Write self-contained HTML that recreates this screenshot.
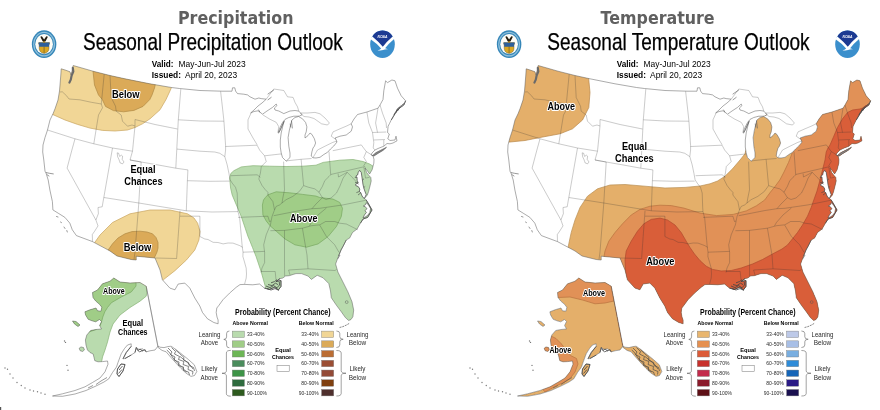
<!DOCTYPE html>
<html lang="en"><head><meta charset="utf-8"><title>Seasonal Outlook</title>
<style>
html,body{margin:0;padding:0;background:#fff}
body{width:880px;height:410px;overflow:hidden}
svg{display:block}
text{font-family:"Liberation Sans",Arial,sans-serif;fill:#000}
.ttl{font-family:"DejaVu Sans","Liberation Sans",sans-serif;font-weight:700;font-size:18px;fill:#606060}
.sub{stroke:#000;stroke-width:.25px}
.lb{font-weight:700;fill:#000;stroke:#fff;stroke-width:2.2px;paint-order:stroke;stroke-linejoin:round}
</style></head><body>
<svg width="880" height="410" viewBox="0 0 880 410">
<rect width="880" height="410" fill="#fff"/>
<defs>
<clipPath id="land"><path d="M73.2 65.5 L93.0 71.2 L110.0 75.5 L125.0 78.8 L150.0 83.8 L171.5 87.5 L179.5 88.5 L200.0 90.5 L222.0 91.2 L232.0 91.2 L232.5 87.8 L234.8 87.8 L235.6 91.1 L237.5 93.6 L243.8 94.2 L247.5 94.9 L250.0 96.8 L255.0 99.2 L258.8 98.0 L261.2 98.6 L266.2 99.2 L262.0 103.0 L258.0 106.0 L254.0 110.0 L250.6 113.0 L254.0 111.5 L258.0 110.8 L260.0 112.2 L262.5 114.2 L267.0 111.0 L272.5 107.4 L276.2 104.0 L277.0 105.5 L274.4 108.0 L275.0 110.0 L278.8 111.0 L283.8 113.6 L290.0 111.0 L295.0 110.5 L298.8 111.1 L300.5 113.0 L302.0 114.8 L299.5 116.0 L298.0 116.2 L293.8 116.2 L288.8 117.5 L285.0 119.4 L282.5 122.5 L280.0 127.5 L278.0 132.5 L279.5 131.5 L281.5 127.0 L284.0 121.5 L282.8 126.0 L281.2 133.0 L280.3 140.0 L280.3 147.0 L281.2 153.0 L282.5 157.5 L286.2 161.2 L290.0 157.5 L290.0 153.0 L288.8 146.2 L288.1 137.5 L289.4 130.0 L291.9 120.0 L295.0 117.5 L298.5 116.5 L302.5 118.8 L305.6 122.5 L306.9 126.9 L306.2 131.9 L305.0 135.0 L305.0 138.0 L308.0 135.6 L310.0 133.0 L311.9 134.4 L314.4 138.8 L315.6 143.0 L314.4 146.2 L313.0 148.0 L311.9 151.9 L311.2 156.0 L313.0 157.8 L316.0 158.0 L320.0 157.3 L323.8 154.5 L327.5 152.3 L330.5 149.0 L333.8 146.0 L337.0 142.0 L336.0 139.5 L335.0 138.0 L340.0 136.2 L346.2 135.0 L351.2 131.2 L352.5 126.9 L351.2 123.8 L354.0 119.0 L357.5 114.5 L366.9 112.0 L378.0 108.2 L380.0 105.0 L383.0 99.5 L383.8 90.8 L385.6 80.8 L387.5 82.6 L391.9 80.0 L395.0 80.8 L397.5 88.2 L401.2 95.8 L405.6 100.8 L403.8 105.0 L401.0 107.0 L398.8 108.8 L396.5 111.5 L395.0 113.8 L393.0 117.0 L391.2 120.0 L389.5 123.5 L388.1 126.2 L387.5 132.5 L389.3 134.0 L387.8 138.8 L390.0 140.5 L395.0 140.0 L396.0 136.2 L397.0 140.8 L393.0 143.0 L390.0 143.8 L387.0 143.5 L383.8 146.2 L378.0 148.5 L375.0 150.0 L372.0 153.0 L371.0 155.0 L373.0 155.7 L374.0 159.5 L373.8 163.2 L372.1 169.8 L369.6 174.0 L367.5 171.0 L365.0 168.0 L366.6 172.5 L369.0 175.5 L370.8 177.5 L371.2 181.0 L370.0 186.0 L368.6 191.5 L367.3 195.3 L364.4 198.2 L366.2 200.0 L368.5 204.0 L372.0 210.0 L367.5 217.5 L363.0 219.0 L360.4 223.2 L357.1 229.0 L352.5 232.5 L349.6 238.1 L346.2 240.0 L343.0 246.4 L341.0 250.0 L337.5 258.8 L335.6 264.0 L337.9 272.0 L342.9 281.9 L347.9 291.9 L352.0 301.8 L353.7 310.1 L352.9 316.7 L351.0 319.5 L348.7 320.5 L345.4 317.6 L341.3 311.8 L336.3 305.1 L331.3 297.7 L330.5 291.0 L328.8 283.6 L323.0 277.8 L317.2 275.3 L311.4 279.4 L308.1 276.1 L301.5 273.6 L296.0 273.6 L293.2 274.4 L289.3 275.7 L285.5 276.0 L282.7 278.1 L280.0 278.6 L276.0 281.5 L281.0 280.6 L281.0 286.4 L278.5 289.8 L274.4 287.3 L269.4 289.4 L264.4 288.1 L259.5 284.0 L252.8 284.8 L244.5 284.4 L240.0 284.6 L236.2 287.3 L229.6 293.1 L223.0 299.7 L218.8 305.5 L216.8 308.0 L216.2 312.5 L217.0 317.0 L218.1 320.0 L218.1 323.8 L213.8 322.5 L207.5 318.8 L202.5 312.5 L199.8 306.0 L194.8 298.0 L189.8 288.1 L184.8 283.1 L178.2 284.0 L174.9 289.8 L169.9 288.1 L162.4 279.8 L160.0 270.0 L155.0 258.0 L136.2 256.2 L136.2 260.0 L131.2 259.5 L117.0 256.0 L110.0 251.0 L92.5 241.6 L76.4 235.6 L72.3 229.8 L69.8 223.1 L64.8 217.3 L58.2 213.2 L52.9 209.9 L52.4 201.6 L49.9 190.0 L48.2 180.0 L46.0 173.0 L45.0 171.2 L43.8 160.0 L42.7 152.0 L43.0 145.0 L45.0 137.5 L47.5 130.0 L50.0 120.0 L53.0 113.8 L55.0 108.8 L58.0 100.0 L59.5 91.0 L60.0 85.0 L60.8 75.0 L61.2 68.8 L66.0 70.3 L70.0 71.8 L71.0 75.0 L72.0 71.0 L73.2 65.5Z"/><path d="M146.2 286.2 L140.0 282.5 L130.0 283.0 L120.0 282.0 L113.8 278.0 L110.0 281.2 L102.5 283.8 L97.5 290.0 L92.5 292.5 L93.0 297.5 L95.7 301.0 L99.5 304.3 L101.8 307.2 L101.0 311.2 L97.5 310.8 L96.0 308.0 L90.0 309.8 L84.9 311.8 L85.6 315.0 L88.2 319.3 L92.0 320.8 L95.7 321.8 L99.5 319.5 L101.5 321.5 L99.6 325.5 L101.5 329.0 L96.0 329.5 L90.7 330.5 L86.8 335.0 L85.4 340.0 L86.0 345.0 L87.4 349.9 L90.0 352.5 L93.2 354.0 L94.0 357.5 L94.8 360.7 L98.0 361.8 L102.5 361.6 L107.5 361.0 L108.0 364.2 L105.0 371.8 L100.0 378.0 L92.5 382.5 L85.0 386.8 L75.0 390.5 L62.5 393.8 L52.5 396.0 L62.5 396.3 L75.0 394.0 L86.0 390.5 L96.0 386.0 L104.0 382.0 L108.8 378.8 L112.5 372.5 L116.5 367.0 L118.0 362.5 L121.2 353.8 L124.5 348.5 L127.5 345.0 L131.2 343.8 L131.2 346.2 L128.5 349.5 L126.2 352.5 L123.0 358.8 L125.0 358.5 L128.0 356.8 L131.2 355.0 L135.0 352.5 L136.2 347.5 L139.0 349.5 L142.5 348.8 L146.2 351.9 L150.0 350.8 L155.0 350.0 L158.0 346.2 L160.0 347.2 L164.0 347.6 L168.0 346.6 L171.1 346.2 L176.0 349.6 L182.7 354.9 L188.5 359.6 L194.3 364.8 L196.8 371.5 L194.5 375.5 L191.0 376.4 L186.0 373.1 L181.0 368.4 L176.1 363.2 L171.0 357.5 L166.1 351.8 L162.0 350.4 L158.0 347.4Z"/><path d="M372.5 155.5 L376.0 152.5 L381.0 150.0 L386.5 147.2 L383.0 150.5 L378.0 153.5 L374.0 156.2Z"/><path d="M72.5 321.0 L76.0 321.5 L80.0 325.0 L78.0 326.5 L74.5 324.0Z"/><path d="M79.2 348.2 L81.0 346.9 L83.6 347.6 L84.4 350.0 L82.5 351.5 L80.0 350.6Z"/><path d="M117.5 369.0 L121.0 364.0 L125.0 364.5 L123.0 371.0 L119.0 376.5 L117.0 374.0Z"/></clipPath>
</defs>
<g id="precip">
<g clip-path="url(#land)">
<path d="M52.5 114.4 L65.0 120.0 L77.5 124.4 L90.0 128.1 L102.5 130.4 L115.0 131.0 L127.5 130.0 L135.0 127.5 L142.5 123.8 L150.0 118.8 L160.0 109.8 L166.0 99.5 L169.5 92.0 L171.5 87.5 L173.0 60.0 L30.0 50.0 L30.0 114.4Z" fill="#F1D696" stroke="#c9a560" stroke-width=".7"/>
<path d="M93.0 71.2 L94.5 85.0 L98.5 95.0 L102.3 99.5 L105.5 106.4 L113.4 110.6 L123.6 111.8 L133.9 110.4 L143.0 106.4 L149.8 99.5 L152.0 95.0 L154.5 88.0 L155.3 84.5 L156.0 60.0 L93.0 60.0Z" fill="#DBAA58" stroke="#b08a45" stroke-width=".7"/>
<path d="M93.8 243.8 L100.0 235.0 L112.5 222.5 L130.0 213.8 L150.0 210.0 L170.0 210.0 L187.5 213.8 L194.0 218.0 L197.6 223.2 L200.0 231.5 L198.9 240.0 L194.8 250.0 L186.5 259.9 L174.9 270.7 L163.3 279.8 L155.0 290.0 L90.0 290.0Z" fill="#F1D696" stroke="#c9a560" stroke-width=".7"/>
<path d="M107.5 251.0 L112.5 243.8 L118.0 238.0 L125.0 233.8 L132.0 231.6 L140.0 231.2 L147.0 232.0 L152.5 233.8 L156.0 237.5 L158.0 242.5 L158.0 248.0 L157.0 252.0 L154.5 257.5 L150.0 275.0 L105.0 275.0Z" fill="#DBAA58" stroke="#b08a45" stroke-width=".7"/>
<path d="M229.7 178.2 L230.8 173.5 L233.9 170.7 L241.3 166.9 L253.0 165.7 L269.5 166.2 L286.1 166.5 L302.7 166.2 L316.0 165.2 L323.2 162.4 L339.8 160.2 L353.0 159.5 L363.0 161.5 L369.6 164.0 L376.0 168.0 L440.0 168.0 L440.0 345.0 L267.0 345.0 L266.0 292.0 L265.3 286.4 L261.1 271.5 L256.1 256.6 L252.5 247.5 L249.5 240.0 L248.0 236.5 L241.3 216.6 L236.4 205.0 L232.2 195.0 L230.6 188.1Z" fill="#B9DBAE" stroke="#86b176" stroke-width=".7"/>
<path d="M262.4 205.0 L263.5 200.0 L265.4 197.5 L267.9 194.8 L276.2 191.8 L289.5 192.8 L302.7 194.4 L316.0 196.1 L319.8 197.5 L333.0 199.1 L339.7 202.4 L342.5 208.3 L341.3 216.5 L336.4 226.5 L328.1 236.5 L318.1 243.9 L306.5 247.2 L294.9 244.8 L284.9 238.9 L276.6 231.5 L270.0 225.7 L266.2 220.9 L262.9 214.9Z" fill="#A0CD87" stroke="#78a862" stroke-width=".7"/>
<path d="M150.0 270.0 L146.2 296.2 L140.0 301.2 L130.0 307.5 L120.0 315.0 L113.0 324.0 L110.0 332.0 L107.5 342.0 L105.0 350.0 L102.5 357.0 L101.2 364.0 L60.0 364.0 L60.0 270.0Z" fill="#B9DBAE" stroke="#86b176" stroke-width=".7"/>
<path d="M136.2 270.0 L136.0 286.0 L131.3 291.9 L121.4 296.9 L111.4 302.7 L107.5 307.5 L104.8 311.8 L102.8 317.0 L101.5 322.0 L100.0 326.0 L96.0 329.5 L87.5 332.5 L60.0 332.5 L60.0 270.0Z" fill="#A0CD87" stroke="#78a862" stroke-width=".7"/>
</g>
<path d="M266.2 99.2 L262.0 103.0 L258.0 106.0 L254.0 110.0 L250.6 113.0 L254.0 111.5 L258.0 110.8 L260.0 112.2 L262.5 114.2 L267.0 111.0 L272.5 107.4 L276.2 104.0 L277.0 105.5 L274.4 108.0 L275.0 110.0 L278.8 111.0 L283.8 113.6 L290.0 111.0 L295.0 110.5 L298.8 111.1 L297.5 106.8 L295.0 102.4 L293.1 97.4 L287.5 96.8 L283.8 90.5 L273.8 89.0 L266.2 99.2Z" fill="#fff" stroke="none"/>
<path d="M298.0 116.2 L293.8 116.2 L288.8 117.5 L285.0 119.4 L282.5 122.5 L280.0 127.5 L278.0 132.5 L279.5 131.5 L281.5 127.0 L284.0 121.5 L282.8 126.0 L281.2 133.0 L280.3 140.0 L280.3 147.0 L281.2 153.0 L282.5 157.5 L286.2 161.2 L290.0 157.5 L290.0 153.0 L288.8 146.2 L288.1 137.5 L289.4 130.0 L291.9 120.0 L295.0 117.5 L298.5 116.5Z" fill="#fff" stroke="none"/>
<path d="M300.5 113.0 L307.5 113.0 L315.0 112.4 L320.0 113.8 L325.0 118.0 L329.4 123.0 L327.5 125.0 L321.5 123.8 L317.0 120.6 L314.0 118.5 L309.0 117.0 L304.0 116.5 L302.0 114.8Z" fill="#fff" stroke="none"/>
<path d="M313.0 157.8 L316.0 158.0 L320.0 157.3 L323.8 154.5 L327.5 152.3 L330.5 149.0 L333.8 146.0 L337.0 142.0 L336.2 141.2 L332.5 142.5 L325.0 146.2 L317.5 150.0 L313.8 156.2 L313.0 157.8Z" fill="#fff" stroke="none"/>
<path d="M336.0 139.5 L335.0 138.0 L340.0 136.2 L346.2 135.0 L351.2 131.2 L352.5 126.9 L351.2 123.8 L346.2 126.2 L340.0 128.8 L333.0 131.9 L331.2 136.2 L336.0 139.5Z" fill="#fff" stroke="none"/>
<path d="M359.6 170.3 L361.2 172.3 L361.8 176.0 L362.4 180.0 L362.9 184.0 L363.7 187.7 L364.8 191.0 L366.2 194.6 L365.3 196.6 L364.4 198.4 L362.8 197.3 L361.6 195.0 L360.9 192.8 L359.4 191.5 L359.8 189.0 L358.3 186.6 L355.8 185.6 L355.6 184.2 L358.2 183.0 L357.2 180.4 L357.0 177.4 L355.8 176.0 L357.6 175.0 L358.2 172.5Z" fill="#fff" stroke="none"/>
<path d="M366.4 202.6 L368.6 205.2 L370.6 208.6 L369.8 212.6 L367.6 215.4 L365.0 217.2 L363.0 218.0 L364.4 215.0 L366.4 212.4 L365.0 210.8 L367.0 208.6 L365.2 206.8 L363.4 206.0 L365.6 204.6Z" fill="#fff" stroke="none"/>
<g fill="none" stroke="#2e2e2e" stroke-opacity=".5" stroke-width=".5" stroke-linejoin="round">
<path d="M60.0 92.0 L62.3 91.8 L66.5 95.7 L69.0 99.0 L79.8 99.8 L91.4 102.3 L101.3 104.0"/>
<path d="M104.2 74.2 L101.3 104.0"/>
<path d="M101.3 104.0 L102.5 107.8 L98.5 115.0 L97.0 124.0 L93.8 143.8"/>
<path d="M110.0 75.5 L111.2 97.5 L115.5 106.2 L116.2 111.2 L121.2 115.0 L122.5 121.2 L127.5 126.2 L132.0 125.0 L135.0 126.0"/>
<path d="M135.0 119.5 L135.0 126.0 L132.5 151.2 L130.0 160.0 L141.2 162.0"/>
<path d="M47.5 130.0 L75.0 138.8 L93.8 143.8 L112.5 148.0 L132.5 151.2"/>
<path d="M135.0 119.5 L155.0 124.5 L177.5 129.0"/>
<path d="M180.8 89.1 L178.3 119.8 L176.6 152.7 L175.8 168.2"/>
<path d="M178.3 119.8 L200.0 121.0 L223.9 121.2"/>
<path d="M177.0 149.1 L200.0 151.2 L214.8 152.0 L219.8 153.3 L224.8 156.6"/>
<path d="M75.0 138.8 L71.9 150.0 L67.1 168.1 L95.9 220.0"/>
<path d="M112.5 148.0 L103.8 197.5"/>
<path d="M103.8 197.5 L138.8 203.0 L163.0 207.0 L186.3 210.8 L212.0 212.0 L238.0 211.6"/>
<path d="M103.8 197.5 L102.2 206.8 L98.0 207.5 L98.4 213.6 L95.9 220.0 L98.0 225.9 L94.5 231.4 L92.3 234.5 L92.5 241.6"/>
<path d="M141.2 162.0 L138.8 203.0 L135.0 252.0 L134.0 259.5"/>
<path d="M130.0 160.0 L141.2 162.0 L160.0 165.3 L175.8 168.2 L187.9 169.9"/>
<path d="M187.9 169.9 L187.4 180.7 L186.3 210.8"/>
<path d="M187.4 180.7 L210.0 181.3 L229.7 181.1"/>
<path d="M180.0 210.8 L176.6 258.5 L155.0 258.0"/>
<path d="M180.0 216.2 L199.9 216.2 L199.9 236.5 L204.8 239.0 L208.0 239.5 L213.1 242.3 L218.0 242.5 L223.1 243.9 L228.0 243.0 L233.0 243.1 L239.7 245.6 L242.7 247.3"/>
<path d="M220.6 91.3 L222.5 108.0 L223.9 120.7 L225.6 145.6 L225.6 150.0 L224.8 156.6"/>
<path d="M225.6 146.5 L257.1 145.2"/>
<path d="M251.0 113.2 L248.0 119.8 L248.0 129.0 L253.0 138.0 L257.1 144.7"/>
<path d="M257.1 145.2 L259.6 150.0 L264.6 155.8 L266.2 161.6 L261.3 166.5 L260.4 173.2 L258.8 179.0 L262.1 185.6 L265.4 189.8 L267.9 192.3 L267.9 195.0 L272.9 201.6 L274.5 209.9 L272.0 216.6 L270.4 224.9 L266.2 234.8 L263.7 244.8 L264.6 252.2 L264.6 262.7 L262.0 268.0 L261.0 272.5"/>
<path d="M264.6 155.8 L279.5 154.1 L281.5 154.0"/>
<path d="M262.9 114.9 L269.5 119.0 L276.2 122.3 L278.7 126.5 L278.0 132.5"/>
<path d="M224.8 156.6 L227.2 164.9 L228.9 173.2 L230.1 179.8 L232.2 183.1 L235.5 187.3 L237.2 193.1 L237.7 207.7 L238.0 211.6 L239.7 218.2 L242.2 246.4 L243.0 252.2 L242.9 256.6 L244.5 262.0 L246.2 268.2 L246.5 274.0 L246.2 278.1 L244.5 284.4"/>
<path d="M230.6 175.7 L257.1 174.8 L260.4 177.3"/>
<path d="M238.0 217.4 L267.9 216.2 L269.5 221.5 L271.0 221.0"/>
<path d="M243.0 252.2 L264.6 251.4"/>
<path d="M261.0 271.5 L275.2 271.5 L276.0 279.8"/>
<path d="M283.6 161.6 L284.5 189.8 L282.8 198.1 L282.0 203.0"/>
<path d="M286.1 160.9 L301.1 159.3 L311.6 158.5"/>
<path d="M301.1 159.3 L303.6 185.6"/>
<path d="M330.7 174.8 L329.0 176.5 L324.8 180.6 L322.4 186.4 L319.0 192.2 L314.9 188.9 L308.3 187.2 L303.6 185.6 L299.4 191.4 L292.8 196.4 L286.1 199.7 L282.0 203.0 L279.5 205.0 L276.2 206.4 L274.5 209.9"/>
<path d="M329.0 151.6 L330.7 174.8"/>
<path d="M332.8 150.7 L361.3 144.9 L366.3 151.6 L363.8 157.4 L366.3 161.5 L363.8 165.7 L365.5 167.5"/>
<path d="M366.3 151.6 L373.0 155.7"/>
<path d="M330.7 174.5 L363.8 166.8 L365.5 178.1 L369.6 177.3"/>
<path d="M338.1 173.6 L338.5 177.0 L347.2 172.3 L343.1 178.1 L339.8 186.4 L336.5 193.0 L331.0 198.0 L326.0 199.5 L322.4 197.7 L319.0 192.2"/>
<path d="M347.2 172.3 L353.0 178.1 L358.9 184.8"/>
<path d="M322.4 197.7 L316.0 204.0 L312.0 208.7"/>
<path d="M273.7 215.7 L300.0 210.5 L312.0 208.7 L319.8 208.3 L343.0 204.9 L367.1 200.0"/>
<path d="M326.4 208.0 L318.1 214.9 L311.5 222.4 L309.5 225.8"/>
<path d="M270.4 230.7 L284.5 230.4 L302.4 228.2 L311.5 225.7 L319.8 224.8 L325.6 221.5 L334.7 221.5 L339.7 223.2 L346.3 224.0 L357.9 229.8"/>
<path d="M319.8 225.2 L326.4 236.5 L334.7 244.8 L338.9 252.2"/>
<path d="M302.4 228.2 L307.0 255.0 L307.5 262.0 L308.0 268.8"/>
<path d="M290.0 275.0 L288.6 270.0 L308.0 268.8 L335.0 270.5 L336.5 269.5"/>
<path d="M284.5 230.4 L284.5 262.7 L284.6 276.0"/>
<path d="M366.9 112.0 L368.8 123.0 L372.5 132.5 L373.8 142.5 L373.2 148.0 L375.0 150.0"/>
<path d="M378.0 108.2 L375.6 123.0 L377.5 132.5"/>
<path d="M372.5 132.5 L386.2 132.0"/>
<path d="M373.8 140.0 L385.0 139.5"/>
<path d="M383.8 140.0 L383.8 146.2"/>
<path d="M380.0 105.0 L382.5 113.2 L386.2 123.0 L386.5 128.0"/>
<path d="M117.2 152.8 L118.6 153.2 L119.6 156.4 L121.4 155.2 L122.6 156.2 L122.2 159.4 L124.0 162.0 L122.6 163.8 L120.2 163.0 L119.0 159.6 L117.6 156.6Z"/>
<path d="M266.2 99.2 L273.8 89.0 L283.8 90.5 L287.5 96.8 L293.1 97.4 L295.0 102.4 L297.5 106.8 L298.8 111.1"/><path d="M300.5 113.0 L307.5 113.0 L315.0 112.4 L320.0 113.8 L325.0 118.0 L329.4 123.0 L327.5 125.0 L321.5 123.8 L317.0 120.6 L314.0 118.5 L309.0 117.0 L304.0 116.5 L302.0 114.8Z"/><path d="M313.0 157.8 L313.8 156.2 L317.5 150.0 L325.0 146.2 L332.5 142.5 L336.2 141.2 L337.0 142.0"/><path d="M336.0 139.5 L331.2 136.2 L333.0 131.9 L340.0 128.8 L346.2 126.2 L351.2 123.8"/>
<path d="M146.2 286.2 L158.0 346.2"/>
</g>
<g fill="none" stroke="#555" stroke-opacity=".9" stroke-width=".55" stroke-linejoin="round">
<path d="M73.2 65.5 L93.0 71.2 L110.0 75.5 L125.0 78.8 L150.0 83.8 L171.5 87.5 L179.5 88.5 L200.0 90.5 L222.0 91.2 L232.0 91.2 L232.5 87.8 L234.8 87.8 L235.6 91.1 L237.5 93.6 L243.8 94.2 L247.5 94.9 L250.0 96.8 L255.0 99.2 L258.8 98.0 L261.2 98.6 L266.2 99.2 L262.0 103.0 L258.0 106.0 L254.0 110.0 L250.6 113.0 L254.0 111.5 L258.0 110.8 L260.0 112.2 L262.5 114.2 L267.0 111.0 L272.5 107.4 L276.2 104.0 L277.0 105.5 L274.4 108.0 L275.0 110.0 L278.8 111.0 L283.8 113.6 L290.0 111.0 L295.0 110.5 L298.8 111.1 L300.5 113.0 L302.0 114.8 L299.5 116.0 L298.0 116.2 L293.8 116.2 L288.8 117.5 L285.0 119.4 L282.5 122.5 L280.0 127.5 L278.0 132.5 L279.5 131.5 L281.5 127.0 L284.0 121.5 L282.8 126.0 L281.2 133.0 L280.3 140.0 L280.3 147.0 L281.2 153.0 L282.5 157.5 L286.2 161.2 L290.0 157.5 L290.0 153.0 L288.8 146.2 L288.1 137.5 L289.4 130.0 L291.9 120.0 L295.0 117.5 L298.5 116.5 L302.5 118.8 L305.6 122.5 L306.9 126.9 L306.2 131.9 L305.0 135.0 L305.0 138.0 L308.0 135.6 L310.0 133.0 L311.9 134.4 L314.4 138.8 L315.6 143.0 L314.4 146.2 L313.0 148.0 L311.9 151.9 L311.2 156.0 L313.0 157.8 L316.0 158.0 L320.0 157.3 L323.8 154.5 L327.5 152.3 L330.5 149.0 L333.8 146.0 L337.0 142.0 L336.0 139.5 L335.0 138.0 L340.0 136.2 L346.2 135.0 L351.2 131.2 L352.5 126.9 L351.2 123.8 L354.0 119.0 L357.5 114.5 L366.9 112.0 L378.0 108.2 L380.0 105.0 L383.0 99.5 L383.8 90.8 L385.6 80.8 L387.5 82.6 L391.9 80.0 L395.0 80.8 L397.5 88.2 L401.2 95.8 L405.6 100.8 L403.8 105.0 L401.0 107.0 L398.8 108.8 L396.5 111.5 L395.0 113.8 L393.0 117.0 L391.2 120.0 L389.5 123.5 L388.1 126.2 L387.5 132.5 L389.3 134.0 L387.8 138.8 L390.0 140.5 L395.0 140.0 L396.0 136.2 L397.0 140.8 L393.0 143.0 L390.0 143.8 L387.0 143.5 L383.8 146.2 L378.0 148.5 L375.0 150.0 L372.0 153.0 L371.0 155.0 L373.0 155.7 L374.0 159.5 L373.8 163.2 L372.1 169.8 L369.6 174.0 L367.5 171.0 L365.0 168.0 L366.6 172.5 L369.0 175.5 L370.8 177.5 L371.2 181.0 L370.0 186.0 L368.6 191.5 L367.3 195.3 L364.4 198.2 L366.2 200.0 L368.5 204.0 L372.0 210.0 L367.5 217.5 L363.0 219.0 L360.4 223.2 L357.1 229.0 L352.5 232.5 L349.6 238.1 L346.2 240.0 L343.0 246.4 L341.0 250.0 L337.5 258.8 L335.6 264.0 L337.9 272.0 L342.9 281.9 L347.9 291.9 L352.0 301.8 L353.7 310.1 L352.9 316.7 L351.0 319.5 L348.7 320.5 L345.4 317.6 L341.3 311.8 L336.3 305.1 L331.3 297.7 L330.5 291.0 L328.8 283.6 L323.0 277.8 L317.2 275.3 L311.4 279.4 L308.1 276.1 L301.5 273.6 L296.0 273.6 L293.2 274.4 L289.3 275.7 L285.5 276.0 L282.7 278.1 L280.0 278.6 L276.0 281.5 L281.0 280.6 L281.0 286.4 L278.5 289.8 L274.4 287.3 L269.4 289.4 L264.4 288.1 L259.5 284.0 L252.8 284.8 L244.5 284.4 L240.0 284.6 L236.2 287.3 L229.6 293.1 L223.0 299.7 L218.8 305.5 L216.8 308.0 L216.2 312.5 L217.0 317.0 L218.1 320.0 L218.1 323.8 L213.8 322.5 L207.5 318.8 L202.5 312.5 L199.8 306.0 L194.8 298.0 L189.8 288.1 L184.8 283.1 L178.2 284.0 L174.9 289.8 L169.9 288.1 L162.4 279.8 L160.0 270.0 L155.0 258.0 L136.2 256.2 L136.2 260.0 L131.2 259.5 L117.0 256.0 L110.0 251.0 L92.5 241.6 L76.4 235.6 L72.3 229.8 L69.8 223.1 L64.8 217.3 L58.2 213.2 L52.9 209.9 L52.4 201.6 L49.9 190.0 L48.2 180.0 L46.0 173.0 L45.0 171.2 L43.8 160.0 L42.7 152.0 L43.0 145.0 L45.0 137.5 L47.5 130.0 L50.0 120.0 L53.0 113.8 L55.0 108.8 L58.0 100.0 L59.5 91.0 L60.0 85.0 L60.8 75.0 L61.2 68.8 L66.0 70.3 L70.0 71.8 L71.0 75.0 L72.0 71.0 L73.2 65.5Z"/><path d="M146.2 286.2 L140.0 282.5 L130.0 283.0 L120.0 282.0 L113.8 278.0 L110.0 281.2 L102.5 283.8 L97.5 290.0 L92.5 292.5 L93.0 297.5 L95.7 301.0 L99.5 304.3 L101.8 307.2 L101.0 311.2 L97.5 310.8 L96.0 308.0 L90.0 309.8 L84.9 311.8 L85.6 315.0 L88.2 319.3 L92.0 320.8 L95.7 321.8 L99.5 319.5 L101.5 321.5 L99.6 325.5 L101.5 329.0 L96.0 329.5 L90.7 330.5 L86.8 335.0 L85.4 340.0 L86.0 345.0 L87.4 349.9 L90.0 352.5 L93.2 354.0 L94.0 357.5 L94.8 360.7 L98.0 361.8 L102.5 361.6 L107.5 361.0 L108.0 364.2 L105.0 371.8 L100.0 378.0 L92.5 382.5 L85.0 386.8 L75.0 390.5 L62.5 393.8 L52.5 396.0 L62.5 396.3 L75.0 394.0 L86.0 390.5 L96.0 386.0 L104.0 382.0 L108.8 378.8 L112.5 372.5 L116.5 367.0 L118.0 362.5 L121.2 353.8 L124.5 348.5 L127.5 345.0 L131.2 343.8 L131.2 346.2 L128.5 349.5 L126.2 352.5 L123.0 358.8 L125.0 358.5 L128.0 356.8 L131.2 355.0 L135.0 352.5 L136.2 347.5 L139.0 349.5 L142.5 348.8 L146.2 351.9 L150.0 350.8 L155.0 350.0 L158.0 346.2 L160.0 347.2 L164.0 347.6 L168.0 346.6 L171.1 346.2 L176.0 349.6 L182.7 354.9 L188.5 359.6 L194.3 364.8 L196.8 371.5 L194.5 375.5 L191.0 376.4 L186.0 373.1 L181.0 368.4 L176.1 363.2 L171.0 357.5 L166.1 351.8 L162.0 350.4 L158.0 347.4Z"/>
<path d="M72.5 321.0 L76.0 321.5 L80.0 325.0 L78.0 326.5 L74.5 324.0Z"/>
<path d="M79.2 348.2 L81.0 346.9 L83.6 347.6 L84.4 350.0 L82.5 351.5 L80.0 350.6Z"/>
<path d="M117.5 369.0 L121.0 364.0 L125.0 364.5 L123.0 371.0 L119.0 376.5 L117.0 374.0Z"/>
</g>
<g fill="none" stroke="#6a6a6a" stroke-width="2.2" stroke-linecap="round" stroke-linejoin="round">
<path d="M72.8 67.8 L73.3 71.6 L71.6 75.6 L70.8 79.6 L69.4 82.6"/>
</g>
<g fill="none" stroke="#555" stroke-width=".6" stroke-linecap="round">
<path d="M268 94 L273.5 90.2 M268 99.8 L271.2 97.4 M258.6 110 L259.8 112 M278.7 133 L284.3 121"/>
<path d="M291.5 121 L292.3 128 M290.3 124 L290.6 127"/>
<path d="M46.2 172.6 L49.5 173.3 L53.3 173.9 M47.2 174.8 L49 176"/>
<path d="M56.5 216.5 L58 217 M60.5 222 L61.5 222.6 M64 227 L65 228.5 M66.8 230.5 L67.3 232"/>
</g>
<g fill="none" stroke="#555" stroke-width=".6" stroke-linejoin="round">
<path d="M405.6 100.8 L403.8 105 L401 107 L398.8 108.8 L396.5 111.5 L395 113.8 L393 117 L391.3 120 M404 103.5 L401.5 105.5 L399.5 107 L397.3 109.3 L395.6 112 L393.8 115 M399.6 106.8 L398 110.6 M397.6 108.6 L396.4 112.4" stroke="#4a4a4a" stroke-width=".8"/>
<path d="M372.5 155.6 L376 152.6 L381 150.1 L386.5 147.3 L383 150.4 L378 153.4 L374 156Z" fill="#8a8a8a"/>
<path d="M359.6 170.3 L361.2 172.3 L361.8 176.0 L362.4 180.0 L362.9 184.0 L363.7 187.7 L364.8 191.0 L366.2 194.6 L365.3 196.6 L364.4 198.4 L362.8 197.3 L361.6 195.0 L360.9 192.8 L359.4 191.5 L359.8 189.0 L358.3 186.6 L355.8 185.6 L355.6 184.2 L358.2 183.0 L357.2 180.4 L357.0 177.4 L355.8 176.0 L357.6 175.0 L358.2 172.5Z" stroke="#444" stroke-width=".7"/>
<path d="M358.2 183 L355 182.4 M359.4 191.5 L356.4 192.6 M357 177.4 L354.8 177.6 M360.9 192.8 L358 195 M362.4 180 L364 178.8 M363.7 187.7 L365.2 186.4" stroke="#444" stroke-width=".6"/>
<path d="M366.4 202.6 L368.6 205.2 L370.6 208.6 L369.8 212.6 L367.6 215.4 L365.0 217.2 L363.0 218.0 L364.4 215.0 L366.4 212.4 L365.0 210.8 L367.0 208.6 L365.2 206.8 L363.4 206.0 L365.6 204.6Z" stroke="#444" stroke-width=".6"/>
<path d="M366.3 200.2 L369 204.5 L372 210 L367.8 217.3 L363.2 219 L360.4 223.2" stroke="#444" stroke-width=".7"/>
<path d="M346.3 240 L343 246.4 L341 250 L338.5 256 M340 255 L337.8 258.8"/>
<path d="M264.4 288.1 L269.4 289.4 L274.4 287.3 L278.5 289.8 L281 286.4 L281 280.6 L276 281.5 L280 278.6 M266 286 L270 287.6 L273.5 285.6 L277 287.8 L279.5 285 L279.3 282 M268 284.5 L272 285.6 L275.5 283.2 L278 284.6 M271 282.8 L274.5 281.6 L277 279.6 M267 288.6 L271 290 L275 288.6 L279 290.4" stroke="#444" stroke-width=".8"/>
<path d="M168 348 L172 352 L170.5 354.5 L175 357 L174 360 L179 362 L178.5 365.5 L183.5 367 L183.5 370.5 L188.5 372 L189.5 375 M171.5 347.5 L175.5 351.5 L174.5 354 L179.5 356.5 L178.5 359.5 L184 361.5 L183 364.5 L188.5 366.5 L188 369.5 L193 371.5 L192.5 374.5 M175.5 349.8 L179.5 353.5 L184 357.5 L183.5 360 L188.5 362.5 L189 365.5 L193.5 367.5 L194.5 371 M166.8 350 L170 353.2 L173 358 L177.5 362.8 L182 367.6 L186.6 372 M180 356.5 L185 360.5 L190 364.8 L193 369" stroke="#444" stroke-width=".65"/>
<path d="M136.3 347.5 L138 350.5 L140 349 L142.5 351 L145 349.5 L146.3 352 M137 349.5 L139.5 352 L143 350.2 M135 352.5 L136.3 347.5 M123 358.8 L126.3 352.5 L131.3 346.3 M125 358.5 L131.3 355" stroke="#444" stroke-width=".75"/>
<path d="M117.5 369 L121 364 L125 364.5 L123 371 L119 376.5 L117 374Z M119 370 L122.5 366 M118.5 373.5 L122 369.5" stroke="#444" stroke-width=".8"/>
<path d="M96 384.5 L101 381 L107 377.5 M88 388 L93 385.5"/>
</g>
<circle cx="346.7" cy="302.1" r="1.4" fill="none" stroke="#555" stroke-width=".45"/><path d="M339.6 327.5 L343 326.6 L346.5 325 L349.6 323.2" fill="none" stroke="#555" stroke-width=".7" stroke-dasharray="2 .8"/>
<rect x="0" y="407" width="1.2" height="3" fill="#555"/>
<g fill="#777">
<circle cx="45" cy="394.25" r=".7"/>
<circle cx="41" cy="393" r=".7"/>
<circle cx="37.5" cy="391.75" r=".7"/>
<circle cx="33.5" cy="391" r=".7"/>
<circle cx="30" cy="390" r=".7"/>
<circle cx="25" cy="388" r=".7"/>
<circle cx="21.25" cy="385.5" r=".7"/>
<circle cx="17" cy="382.5" r=".7"/>
<circle cx="13" cy="378" r=".7"/>
<circle cx="10" cy="374" r=".7"/>
<circle cx="7.5" cy="369.25" r=".7"/>
<circle cx="5" cy="368" r=".7"/>
<circle cx="64.5" cy="341" r=".7"/>
<circle cx="65.5" cy="342.4" r=".7"/>
<circle cx="67" cy="365.4" r=".7"/>
<circle cx="68" cy="370.2" r=".7"/>
</g>
<text x="125.8" y="97.5" font-size="10.6" text-anchor="middle" class="lb" textLength="27.5" lengthAdjust="spacingAndGlyphs">Below</text>
<text x="143" y="173" font-size="10.5" text-anchor="middle" class="lb" textLength="25" lengthAdjust="spacingAndGlyphs">Equal</text>
<text x="143.4" y="185" font-size="10.5" text-anchor="middle" class="lb" textLength="38.3" lengthAdjust="spacingAndGlyphs">Chances</text>
<text x="137.5" y="251" font-size="11.4" text-anchor="middle" class="lb" textLength="27.5" lengthAdjust="spacingAndGlyphs">Below</text>
<text x="303.8" y="222" font-size="11.4" text-anchor="middle" class="lb" textLength="27.5" lengthAdjust="spacingAndGlyphs">Above</text>
<text x="113.8" y="293.7" font-size="8.7" text-anchor="middle" class="lb" textLength="21.5" lengthAdjust="spacingAndGlyphs">Above</text>
<text x="132.8" y="325.6" font-size="8.7" text-anchor="middle" class="lb" textLength="20.5" lengthAdjust="spacingAndGlyphs">Equal</text>
<text x="132.8" y="334.5" font-size="8.7" text-anchor="middle" class="lb" textLength="29.5" lengthAdjust="spacingAndGlyphs">Chances</text>
<text x="282.8" y="314.6" font-size="8.6" font-weight="700" text-anchor="middle" textLength="95.5" lengthAdjust="spacingAndGlyphs">Probability (Percent Chance)</text>
<text x="250.2" y="324.6" font-size="5.6" font-weight="700" text-anchor="middle" textLength="35.5" lengthAdjust="spacingAndGlyphs">Above Normal</text>
<text x="316.2" y="324.6" font-size="5.6" font-weight="700" text-anchor="middle" textLength="35" lengthAdjust="spacingAndGlyphs">Below Normal</text>
<rect x="232.3" y="331.10" width="12.1" height="6.4" fill="#B9DBAE" stroke="#777" stroke-width=".4"/>
<rect x="321.6" y="331.10" width="12.1" height="6.4" fill="#F1D696" stroke="#777" stroke-width=".4"/>
<text x="247" y="336.10" font-size="5.2" style="fill:#2b2b2b" textLength="17.5" lengthAdjust="spacingAndGlyphs">33-40%</text>
<text x="318.8" y="336.10" font-size="5.2" style="fill:#2b2b2b" text-anchor="end" textLength="17.5" lengthAdjust="spacingAndGlyphs">33-40%</text>
<rect x="232.3" y="340.85" width="12.1" height="6.4" fill="#A0CD87" stroke="#777" stroke-width=".4"/>
<rect x="321.6" y="340.85" width="12.1" height="6.4" fill="#DBAA58" stroke="#777" stroke-width=".4"/>
<text x="247" y="345.85" font-size="5.2" style="fill:#2b2b2b" textLength="17.5" lengthAdjust="spacingAndGlyphs">40-50%</text>
<text x="318.8" y="345.85" font-size="5.2" style="fill:#2b2b2b" text-anchor="end" textLength="17.5" lengthAdjust="spacingAndGlyphs">40-50%</text>
<rect x="232.3" y="350.60" width="12.1" height="6.4" fill="#6DB656" stroke="#777" stroke-width=".4"/>
<rect x="321.6" y="350.60" width="12.1" height="6.4" fill="#BB6D33" stroke="#777" stroke-width=".4"/>
<text x="247" y="355.60" font-size="5.2" style="fill:#2b2b2b" textLength="17.5" lengthAdjust="spacingAndGlyphs">50-60%</text>
<text x="318.8" y="355.60" font-size="5.2" style="fill:#2b2b2b" text-anchor="end" textLength="17.5" lengthAdjust="spacingAndGlyphs">50-60%</text>
<rect x="232.3" y="360.30" width="12.1" height="6.4" fill="#4A8C5C" stroke="#777" stroke-width=".4"/>
<rect x="321.6" y="360.30" width="12.1" height="6.4" fill="#9B4E34" stroke="#777" stroke-width=".4"/>
<text x="247" y="365.30" font-size="5.2" style="fill:#2b2b2b" textLength="17.5" lengthAdjust="spacingAndGlyphs">60-70%</text>
<text x="318.8" y="365.30" font-size="5.2" style="fill:#2b2b2b" text-anchor="end" textLength="17.5" lengthAdjust="spacingAndGlyphs">60-70%</text>
<rect x="232.3" y="370.05" width="12.1" height="6.4" fill="#3E9447" stroke="#777" stroke-width=".4"/>
<rect x="321.6" y="370.05" width="12.1" height="6.4" fill="#934A37" stroke="#777" stroke-width=".4"/>
<text x="247" y="375.05" font-size="5.2" style="fill:#2b2b2b" textLength="17.5" lengthAdjust="spacingAndGlyphs">70-80%</text>
<text x="318.8" y="375.05" font-size="5.2" style="fill:#2b2b2b" text-anchor="end" textLength="17.5" lengthAdjust="spacingAndGlyphs">70-80%</text>
<rect x="232.3" y="379.80" width="12.1" height="6.4" fill="#2E6B3E" stroke="#777" stroke-width=".4"/>
<rect x="321.6" y="379.80" width="12.1" height="6.4" fill="#804010" stroke="#777" stroke-width=".4"/>
<text x="247" y="384.80" font-size="5.2" style="fill:#2b2b2b" textLength="17.5" lengthAdjust="spacingAndGlyphs">80-90%</text>
<text x="318.8" y="384.80" font-size="5.2" style="fill:#2b2b2b" text-anchor="end" textLength="17.5" lengthAdjust="spacingAndGlyphs">80-90%</text>
<rect x="232.3" y="389.50" width="12.1" height="6.4" fill="#2D5A1E" stroke="#777" stroke-width=".4"/>
<rect x="321.6" y="389.50" width="12.1" height="6.4" fill="#4F2F2D" stroke="#777" stroke-width=".4"/>
<text x="247" y="394.50" font-size="5.2" style="fill:#2b2b2b" textLength="20" lengthAdjust="spacingAndGlyphs">90-100%</text>
<text x="318.8" y="394.50" font-size="5.2" style="fill:#2b2b2b" text-anchor="end" textLength="20" lengthAdjust="spacingAndGlyphs">90-100%</text>
<text x="283" y="351.6" font-size="5.8" font-weight="700" text-anchor="middle" textLength="15.5" lengthAdjust="spacingAndGlyphs">Equal</text>
<text x="283" y="358.7" font-size="5.8" font-weight="700" text-anchor="middle" textLength="22" lengthAdjust="spacingAndGlyphs">Chances</text>
<rect x="277" y="365.5" width="12.2" height="5.8" fill="#fff" stroke="#777" stroke-width=".5"/>
<text x="209.5" y="336.6" font-size="6.8" style="fill:#2b2b2b" text-anchor="middle" textLength="22" lengthAdjust="spacingAndGlyphs">Leaning</text><text x="209.5" y="345.4" font-size="6.8" style="fill:#2b2b2b" text-anchor="middle" textLength="17.5" lengthAdjust="spacingAndGlyphs">Above</text>
<text x="209.3" y="371" font-size="6.8" style="fill:#2b2b2b" text-anchor="middle" textLength="16" lengthAdjust="spacingAndGlyphs">Likely</text><text x="209.3" y="379.5" font-size="6.8" style="fill:#2b2b2b" text-anchor="middle" textLength="17.5" lengthAdjust="spacingAndGlyphs">Above</text>
<text x="357.5" y="336.6" font-size="6.8" style="fill:#2b2b2b" text-anchor="middle" textLength="22" lengthAdjust="spacingAndGlyphs">Leaning</text><text x="357.5" y="345.4" font-size="6.8" style="fill:#2b2b2b" text-anchor="middle" textLength="17.5" lengthAdjust="spacingAndGlyphs">Below</text>
<text x="357.5" y="371" font-size="6.8" style="fill:#2b2b2b" text-anchor="middle" textLength="16" lengthAdjust="spacingAndGlyphs">Likely</text><text x="357.5" y="379.5" font-size="6.8" style="fill:#2b2b2b" text-anchor="middle" textLength="17.5" lengthAdjust="spacingAndGlyphs">Below</text>
<path d="M229.4 331 Q226.6 331 226.6 333.5 L226.6 336.9 Q226.6 339.4 223.8 339.4 Q226.6 339.4 226.6 341.9 L226.6 345.3 Q226.6 347.8 229.4 347.8" fill="none" stroke="#444" stroke-width=".5"/>
<path d="M230.8 350.4 Q226.4 350.4 226.4 352.9 L226.4 370.79999999999995 Q226.4 373.29999999999995 222.0 373.29999999999995 Q226.4 373.29999999999995 226.4 375.79999999999995 L226.4 393.7 Q226.4 396.2 230.8 396.2" fill="none" stroke="#444" stroke-width=".5"/>
<path d="M336.4 331 Q339.8 331 339.8 333.5 L339.8 336.75 Q339.8 339.25 343.2 339.25 Q339.8 339.25 339.8 341.75 L339.8 345.0 Q339.8 347.5 336.4 347.5" fill="none" stroke="#444" stroke-width=".5"/>
<path d="M336.4 350.5 Q341.2 350.5 341.2 353.0 L341.2 370.75 Q341.2 373.25 346.0 373.25 Q341.2 373.25 341.2 375.75 L341.2 393.5 Q341.2 396 336.4 396" fill="none" stroke="#444" stroke-width=".5"/>
<text x="177.9" y="23.9" class="ttl" textLength="115.6" lengthAdjust="spacingAndGlyphs">Precipitation</text>
<text x="83.0" y="50.4" font-size="23.2" class="sub" textLength="259.8" lengthAdjust="spacingAndGlyphs">Seasonal Precipitation Outlook</text>
<text x="151.7" y="67.2" font-size="9.6" font-weight="700" textLength="21.8" lengthAdjust="spacingAndGlyphs">Valid:</text><text x="178.5" y="67.2" font-size="9.6" textLength="67.2" lengthAdjust="spacingAndGlyphs">May-Jun-Jul 2023</text>
<text x="151.7" y="77.8" font-size="9.6" font-weight="700" textLength="29.3" lengthAdjust="spacingAndGlyphs">Issued:</text><text x="185" y="77.8" font-size="9.6" textLength="52.1" lengthAdjust="spacingAndGlyphs">April 20, 2023</text>
<g transform="translate(44.1 44.2)">
<ellipse rx="12.25" ry="13.85" fill="#3586b8"/><ellipse rx="10.9" ry="12.4" fill="#8fc0dc"/><ellipse rx="9.7" ry="11.1" fill="#3586b8"/><ellipse rx="8.8" ry="10.1" fill="#fdfcf6"/>
<path d="M-5.4 -1.6 H5.4 V0 L4.9 0.4 V4 Q4.9 8.2 0 9.4 Q-4.9 8.2 -4.9 4 V0.4 L-5.4 0Z" fill="#dba722" stroke="#3b3a30" stroke-width=".35"/>
<path d="M-5.4 -1.6 H5.4 V0 L4.9 0.4 V2.6 H-4.9 V0.4 L-5.4 0Z" fill="#2d5f9b"/>
<path d="M0 -1.2 L-1.6 -3.2 L-3.8 -7.4 L-2.2 -8 L0 -4.8 L2.2 -8 L3.8 -7.4 L1.6 -3.2Z" fill="#231d10"/>
<path d="M-1.6 -1.8 L0 -3.4 L1.6 -1.8Z" fill="#c79a2a"/>
<path d="M0 2.6 V9" stroke="#3b3a30" stroke-width=".5"/>
</g>
<g transform="translate(382.5 44.2)">
<ellipse rx="12.3" ry="13.8" fill="#3b8fcc"/>
<path d="M-10.2 -7.6 Q-7 -13.8 0 -13.8 Q7 -13.8 10.2 -7.6 L0.3 3.4Z" fill="#1c3a92"/>
<path d="M-12.2 -5.2 L-10.2 -7.8 Q-3.5 -2.4 0.3 2.6 Q4 -2.6 10.2 -7.8 L12.4 -6 Q6 -0.5 2.6 4 Q4.4 4.2 5.4 5.2 Q2.5 5 0.6 5.9 Q-2 6.8 -5 6 Q-2.6 5.6 -1.4 4.2 Q-5.2 -0.4 -12.2 -5.2Z" fill="#fff"/>
<text x="0" y="-6.2" font-size="3.4" font-weight="700" font-style="italic" text-anchor="middle" style="fill:#fff">NOAA</text>
</g>
</g>
<g id="temp" transform="translate(465 0)">
<g clip-path="url(#land)">
<path d="M123.8 80.0 L125.0 92.5 L123.8 107.5 L117.5 120.0 L107.5 128.8 L95.0 133.8 L75.0 137.5 L60.0 140.5 L45.0 142.0 L30.0 142.0 L30.0 55.0 L123.0 55.0Z" fill="#E4AF6A" stroke="#b98748" stroke-width=".7"/>
<path d="M101.0 262.0 L102.5 250.0 L103.8 243.8 L106.2 232.5 L110.0 220.0 L115.0 207.5 L122.5 196.2 L132.5 188.8 L145.0 185.0 L160.0 184.5 L180.0 186.2 L200.0 188.0 L220.0 187.4 L235.0 186.0 L245.0 183.8 L252.5 181.0 L260.0 176.2 L267.5 168.8 L275.0 160.0 L280.0 153.8 L283.0 140.0 L286.0 125.0 L291.0 117.8 L296.5 114.9 L301.0 115.6 L310.0 100.0 L440.0 60.0 L440.0 345.0 L140.0 345.0Z" fill="#E4AF6A" stroke="#b98f55" stroke-width=".7"/>
<path d="M138.0 262.0 L140.0 251.0 L143.8 241.2 L150.0 232.5 L157.5 223.8 L166.2 215.0 L175.0 209.4 L185.0 206.2 L195.0 205.2 L206.2 205.6 L218.8 208.1 L235.0 213.1 L251.6 215.6 L268.2 214.4 L281.5 210.8 L291.4 205.8 L299.7 200.0 L305.5 192.0 L310.0 186.5 L314.8 180.0 L319.0 172.0 L323.5 162.5 L328.0 151.0 L331.0 140.0 L336.0 100.0 L440.0 60.0 L440.0 345.0 L150.0 345.0Z" fill="#E19157" stroke="#b8733f" stroke-width=".7"/>
<path d="M161.0 278.0 L160.5 270.0 L160.0 260.0 L161.2 251.0 L166.2 241.2 L172.5 231.2 L178.8 223.8 L186.2 219.4 L195.0 218.1 L202.5 220.0 L210.0 225.0 L216.2 232.5 L221.2 241.2 L225.0 247.5 L229.5 254.0 L235.0 260.6 L241.2 266.2 L247.5 269.4 L256.2 271.0 L266.2 270.5 L276.2 268.0 L287.5 264.0 L297.5 259.5 L307.5 254.0 L317.0 249.0 L322.5 245.0 L327.5 238.8 L332.5 232.5 L337.5 225.0 L342.5 216.2 L346.2 207.5 L348.8 200.0 L352.0 191.0 L355.0 180.0 L357.5 170.0 L360.0 160.0 L361.2 152.0 L363.0 148.0 L365.0 145.0 L368.8 136.2 L372.5 127.5 L377.5 118.8 L382.5 112.5 L387.5 110.0 L395.0 109.0 L397.5 108.0 L401.0 105.5 L440.0 98.0 L440.0 345.0 L150.0 345.0 L150.0 290.0Z" fill="#D95E39" stroke="#b04a2e" stroke-width=".7"/>
<path d="M146.2 286.2 L140.0 282.5 L130.0 283.0 L120.0 282.0 L113.8 278.0 L110.0 281.2 L102.5 283.8 L97.5 290.0 L92.5 292.5 L93.0 297.5 L95.7 301.0 L99.5 304.3 L101.8 307.2 L101.0 311.2 L97.5 310.8 L96.0 308.0 L90.0 309.8 L84.9 311.8 L85.6 315.0 L88.2 319.3 L92.0 320.8 L95.7 321.8 L99.5 319.5 L101.5 321.5 L99.6 325.5 L101.5 329.0 L96.0 329.5 L90.7 330.5 L86.8 335.0 L85.4 340.0 L86.0 345.0 L87.4 349.9 L90.0 352.5 L93.2 354.0 L94.0 357.5 L94.8 360.7 L98.0 361.8 L102.5 361.6 L107.5 361.0 L108.0 364.2 L105.0 371.8 L100.0 378.0 L92.5 382.5 L85.0 386.8 L75.0 390.5 L62.5 393.8 L52.5 396.0 L62.5 396.3 L75.0 394.0 L86.0 390.5 L96.0 386.0 L104.0 382.0 L108.8 378.8 L112.5 372.5 L116.5 367.0 L118.0 362.5 L121.2 353.8 L124.5 348.5 L127.5 345.0 L131.2 343.8 L131.2 346.2 L128.5 349.5 L126.2 352.5 L123.0 358.8 L125.0 358.5 L128.0 356.8 L131.2 355.0 L135.0 352.5 L136.2 347.5 L139.0 349.5 L142.5 348.8 L146.2 351.9 L150.0 350.8 L155.0 350.0 L158.0 346.2 L160.0 347.2 L164.0 347.6 L168.0 346.6 L171.1 346.2 L176.0 349.6 L182.7 354.9 L188.5 359.6 L194.3 364.8 L196.8 371.5 L194.5 375.5 L191.0 376.4 L186.0 373.1 L181.0 368.4 L176.1 363.2 L171.0 357.5 L166.1 351.8 L162.0 350.4 L158.0 347.4Z" fill="#E4AF6A"/>
<path d="M72.5 321.0 L76.0 321.5 L80.0 325.0 L78.0 326.5 L74.5 324.0Z" fill="#E4AF6A"/>
<path d="M79.2 348.2 L81.0 346.9 L83.6 347.6 L84.4 350.0 L82.5 351.5 L80.0 350.6Z" fill="#E4AF6A"/>
<path d="M117.5 369.0 L121.0 364.0 L125.0 364.5 L123.0 371.0 L119.0 376.5 L117.0 374.0Z" fill="#E4AF6A"/>
<path d="M93.0 297.5 L105.0 297.0 L117.5 300.0 L130.0 303.8 L140.0 303.0 L149.0 301.0 L150.0 270.0 L60.0 270.0 L60.0 297.5Z" fill="#E19157" stroke="#b8733f" stroke-width=".7"/>
<path d="M85.0 335.5 L91.0 338.5 L96.0 343.5 L100.0 348.5 L103.0 353.0 L106.5 356.0 L111.5 358.5 L113.0 364.0 L110.0 372.0 L105.0 378.5 L99.0 382.5 L93.0 385.0 L80.0 392.0 L70.0 380.0 L76.0 345.0Z" fill="#E19157" stroke="#b8733f" stroke-width=".7"/>
<path d="M79.2 348.2 L81.0 346.9 L83.6 347.6 L84.4 350.0 L82.5 351.5 L80.0 350.6Z" fill="#E19157"/>
<path d="M262.5 114.2 L267.0 111.0 L272.5 107.4 L276.2 104.0 L277.0 105.5 L274.4 108.0 L275.0 110.0 L278.8 111.0 L283.8 113.6 L290.0 111.0 L295.0 110.5 L298.8 111.1 L300.5 113.0 L302.0 114.8 L299.5 116.0 L298.0 116.2 L293.8 116.2 L288.8 117.5 L285.0 119.4 L282.5 122.5 L280.0 127.5 L278.0 132.5 L278.7 126.5 L276.2 122.3 L269.5 119.0Z" fill="#fff"/>
</g>
<path d="M266.2 99.2 L262.0 103.0 L258.0 106.0 L254.0 110.0 L250.6 113.0 L254.0 111.5 L258.0 110.8 L260.0 112.2 L262.5 114.2 L267.0 111.0 L272.5 107.4 L276.2 104.0 L277.0 105.5 L274.4 108.0 L275.0 110.0 L278.8 111.0 L283.8 113.6 L290.0 111.0 L295.0 110.5 L298.8 111.1 L297.5 106.8 L295.0 102.4 L293.1 97.4 L287.5 96.8 L283.8 90.5 L273.8 89.0 L266.2 99.2Z" fill="#fff" stroke="none"/>
<path d="M298.0 116.2 L293.8 116.2 L288.8 117.5 L285.0 119.4 L282.5 122.5 L280.0 127.5 L278.0 132.5 L279.5 131.5 L281.5 127.0 L284.0 121.5 L282.8 126.0 L281.2 133.0 L280.3 140.0 L280.3 147.0 L281.2 153.0 L282.5 157.5 L286.2 161.2 L290.0 157.5 L290.0 153.0 L288.8 146.2 L288.1 137.5 L289.4 130.0 L291.9 120.0 L295.0 117.5 L298.5 116.5Z" fill="#fff" stroke="none"/>
<path d="M300.5 113.0 L307.5 113.0 L315.0 112.4 L320.0 113.8 L325.0 118.0 L329.4 123.0 L327.5 125.0 L321.5 123.8 L317.0 120.6 L314.0 118.5 L309.0 117.0 L304.0 116.5 L302.0 114.8Z" fill="#fff" stroke="none"/>
<path d="M313.0 157.8 L316.0 158.0 L320.0 157.3 L323.8 154.5 L327.5 152.3 L330.5 149.0 L333.8 146.0 L337.0 142.0 L336.2 141.2 L332.5 142.5 L325.0 146.2 L317.5 150.0 L313.8 156.2 L313.0 157.8Z" fill="#fff" stroke="none"/>
<path d="M336.0 139.5 L335.0 138.0 L340.0 136.2 L346.2 135.0 L351.2 131.2 L352.5 126.9 L351.2 123.8 L346.2 126.2 L340.0 128.8 L333.0 131.9 L331.2 136.2 L336.0 139.5Z" fill="#fff" stroke="none"/>
<path d="M359.6 170.3 L361.2 172.3 L361.8 176.0 L362.4 180.0 L362.9 184.0 L363.7 187.7 L364.8 191.0 L366.2 194.6 L365.3 196.6 L364.4 198.4 L362.8 197.3 L361.6 195.0 L360.9 192.8 L359.4 191.5 L359.8 189.0 L358.3 186.6 L355.8 185.6 L355.6 184.2 L358.2 183.0 L357.2 180.4 L357.0 177.4 L355.8 176.0 L357.6 175.0 L358.2 172.5Z" fill="#fff" stroke="none"/>
<path d="M366.4 202.6 L368.6 205.2 L370.6 208.6 L369.8 212.6 L367.6 215.4 L365.0 217.2 L363.0 218.0 L364.4 215.0 L366.4 212.4 L365.0 210.8 L367.0 208.6 L365.2 206.8 L363.4 206.0 L365.6 204.6Z" fill="#fff" stroke="none"/>
<g fill="none" stroke="#2e2e2e" stroke-opacity=".5" stroke-width=".5" stroke-linejoin="round">
<path d="M60.0 92.0 L62.3 91.8 L66.5 95.7 L69.0 99.0 L79.8 99.8 L91.4 102.3 L101.3 104.0"/>
<path d="M104.2 74.2 L101.3 104.0"/>
<path d="M101.3 104.0 L102.5 107.8 L98.5 115.0 L97.0 124.0 L93.8 143.8"/>
<path d="M110.0 75.5 L111.2 97.5 L115.5 106.2 L116.2 111.2 L121.2 115.0 L122.5 121.2 L127.5 126.2 L132.0 125.0 L135.0 126.0"/>
<path d="M135.0 119.5 L135.0 126.0 L132.5 151.2 L130.0 160.0 L141.2 162.0"/>
<path d="M47.5 130.0 L75.0 138.8 L93.8 143.8 L112.5 148.0 L132.5 151.2"/>
<path d="M135.0 119.5 L155.0 124.5 L177.5 129.0"/>
<path d="M180.8 89.1 L178.3 119.8 L176.6 152.7 L175.8 168.2"/>
<path d="M178.3 119.8 L200.0 121.0 L223.9 121.2"/>
<path d="M177.0 149.1 L200.0 151.2 L214.8 152.0 L219.8 153.3 L224.8 156.6"/>
<path d="M75.0 138.8 L71.9 150.0 L67.1 168.1 L95.9 220.0"/>
<path d="M112.5 148.0 L103.8 197.5"/>
<path d="M103.8 197.5 L138.8 203.0 L163.0 207.0 L186.3 210.8 L212.0 212.0 L238.0 211.6"/>
<path d="M103.8 197.5 L102.2 206.8 L98.0 207.5 L98.4 213.6 L95.9 220.0 L98.0 225.9 L94.5 231.4 L92.3 234.5 L92.5 241.6"/>
<path d="M141.2 162.0 L138.8 203.0 L135.0 252.0 L134.0 259.5"/>
<path d="M130.0 160.0 L141.2 162.0 L160.0 165.3 L175.8 168.2 L187.9 169.9"/>
<path d="M187.9 169.9 L187.4 180.7 L186.3 210.8"/>
<path d="M187.4 180.7 L210.0 181.3 L229.7 181.1"/>
<path d="M180.0 210.8 L176.6 258.5 L155.0 258.0"/>
<path d="M180.0 216.2 L199.9 216.2 L199.9 236.5 L204.8 239.0 L208.0 239.5 L213.1 242.3 L218.0 242.5 L223.1 243.9 L228.0 243.0 L233.0 243.1 L239.7 245.6 L242.7 247.3"/>
<path d="M220.6 91.3 L222.5 108.0 L223.9 120.7 L225.6 145.6 L225.6 150.0 L224.8 156.6"/>
<path d="M225.6 146.5 L257.1 145.2"/>
<path d="M251.0 113.2 L248.0 119.8 L248.0 129.0 L253.0 138.0 L257.1 144.7"/>
<path d="M257.1 145.2 L259.6 150.0 L264.6 155.8 L266.2 161.6 L261.3 166.5 L260.4 173.2 L258.8 179.0 L262.1 185.6 L265.4 189.8 L267.9 192.3 L267.9 195.0 L272.9 201.6 L274.5 209.9 L272.0 216.6 L270.4 224.9 L266.2 234.8 L263.7 244.8 L264.6 252.2 L264.6 262.7 L262.0 268.0 L261.0 272.5"/>
<path d="M264.6 155.8 L279.5 154.1 L281.5 154.0"/>
<path d="M262.9 114.9 L269.5 119.0 L276.2 122.3 L278.7 126.5 L278.0 132.5"/>
<path d="M224.8 156.6 L227.2 164.9 L228.9 173.2 L230.1 179.8 L232.2 183.1 L235.5 187.3 L237.2 193.1 L237.7 207.7 L238.0 211.6 L239.7 218.2 L242.2 246.4 L243.0 252.2 L242.9 256.6 L244.5 262.0 L246.2 268.2 L246.5 274.0 L246.2 278.1 L244.5 284.4"/>
<path d="M230.6 175.7 L257.1 174.8 L260.4 177.3"/>
<path d="M238.0 217.4 L267.9 216.2 L269.5 221.5 L271.0 221.0"/>
<path d="M243.0 252.2 L264.6 251.4"/>
<path d="M261.0 271.5 L275.2 271.5 L276.0 279.8"/>
<path d="M283.6 161.6 L284.5 189.8 L282.8 198.1 L282.0 203.0"/>
<path d="M286.1 160.9 L301.1 159.3 L311.6 158.5"/>
<path d="M301.1 159.3 L303.6 185.6"/>
<path d="M330.7 174.8 L329.0 176.5 L324.8 180.6 L322.4 186.4 L319.0 192.2 L314.9 188.9 L308.3 187.2 L303.6 185.6 L299.4 191.4 L292.8 196.4 L286.1 199.7 L282.0 203.0 L279.5 205.0 L276.2 206.4 L274.5 209.9"/>
<path d="M329.0 151.6 L330.7 174.8"/>
<path d="M332.8 150.7 L361.3 144.9 L366.3 151.6 L363.8 157.4 L366.3 161.5 L363.8 165.7 L365.5 167.5"/>
<path d="M366.3 151.6 L373.0 155.7"/>
<path d="M330.7 174.5 L363.8 166.8 L365.5 178.1 L369.6 177.3"/>
<path d="M338.1 173.6 L338.5 177.0 L347.2 172.3 L343.1 178.1 L339.8 186.4 L336.5 193.0 L331.0 198.0 L326.0 199.5 L322.4 197.7 L319.0 192.2"/>
<path d="M347.2 172.3 L353.0 178.1 L358.9 184.8"/>
<path d="M322.4 197.7 L316.0 204.0 L312.0 208.7"/>
<path d="M273.7 215.7 L300.0 210.5 L312.0 208.7 L319.8 208.3 L343.0 204.9 L367.1 200.0"/>
<path d="M326.4 208.0 L318.1 214.9 L311.5 222.4 L309.5 225.8"/>
<path d="M270.4 230.7 L284.5 230.4 L302.4 228.2 L311.5 225.7 L319.8 224.8 L325.6 221.5 L334.7 221.5 L339.7 223.2 L346.3 224.0 L357.9 229.8"/>
<path d="M319.8 225.2 L326.4 236.5 L334.7 244.8 L338.9 252.2"/>
<path d="M302.4 228.2 L307.0 255.0 L307.5 262.0 L308.0 268.8"/>
<path d="M290.0 275.0 L288.6 270.0 L308.0 268.8 L335.0 270.5 L336.5 269.5"/>
<path d="M284.5 230.4 L284.5 262.7 L284.6 276.0"/>
<path d="M366.9 112.0 L368.8 123.0 L372.5 132.5 L373.8 142.5 L373.2 148.0 L375.0 150.0"/>
<path d="M378.0 108.2 L375.6 123.0 L377.5 132.5"/>
<path d="M372.5 132.5 L386.2 132.0"/>
<path d="M373.8 140.0 L385.0 139.5"/>
<path d="M383.8 140.0 L383.8 146.2"/>
<path d="M380.0 105.0 L382.5 113.2 L386.2 123.0 L386.5 128.0"/>
<path d="M117.2 152.8 L118.6 153.2 L119.6 156.4 L121.4 155.2 L122.6 156.2 L122.2 159.4 L124.0 162.0 L122.6 163.8 L120.2 163.0 L119.0 159.6 L117.6 156.6Z"/>
<path d="M266.2 99.2 L273.8 89.0 L283.8 90.5 L287.5 96.8 L293.1 97.4 L295.0 102.4 L297.5 106.8 L298.8 111.1"/><path d="M300.5 113.0 L307.5 113.0 L315.0 112.4 L320.0 113.8 L325.0 118.0 L329.4 123.0 L327.5 125.0 L321.5 123.8 L317.0 120.6 L314.0 118.5 L309.0 117.0 L304.0 116.5 L302.0 114.8Z"/><path d="M313.0 157.8 L313.8 156.2 L317.5 150.0 L325.0 146.2 L332.5 142.5 L336.2 141.2 L337.0 142.0"/><path d="M336.0 139.5 L331.2 136.2 L333.0 131.9 L340.0 128.8 L346.2 126.2 L351.2 123.8"/>
<path d="M146.2 286.2 L158.0 346.2"/>
</g>
<g fill="none" stroke="#555" stroke-opacity=".9" stroke-width=".55" stroke-linejoin="round">
<path d="M73.2 65.5 L93.0 71.2 L110.0 75.5 L125.0 78.8 L150.0 83.8 L171.5 87.5 L179.5 88.5 L200.0 90.5 L222.0 91.2 L232.0 91.2 L232.5 87.8 L234.8 87.8 L235.6 91.1 L237.5 93.6 L243.8 94.2 L247.5 94.9 L250.0 96.8 L255.0 99.2 L258.8 98.0 L261.2 98.6 L266.2 99.2 L262.0 103.0 L258.0 106.0 L254.0 110.0 L250.6 113.0 L254.0 111.5 L258.0 110.8 L260.0 112.2 L262.5 114.2 L267.0 111.0 L272.5 107.4 L276.2 104.0 L277.0 105.5 L274.4 108.0 L275.0 110.0 L278.8 111.0 L283.8 113.6 L290.0 111.0 L295.0 110.5 L298.8 111.1 L300.5 113.0 L302.0 114.8 L299.5 116.0 L298.0 116.2 L293.8 116.2 L288.8 117.5 L285.0 119.4 L282.5 122.5 L280.0 127.5 L278.0 132.5 L279.5 131.5 L281.5 127.0 L284.0 121.5 L282.8 126.0 L281.2 133.0 L280.3 140.0 L280.3 147.0 L281.2 153.0 L282.5 157.5 L286.2 161.2 L290.0 157.5 L290.0 153.0 L288.8 146.2 L288.1 137.5 L289.4 130.0 L291.9 120.0 L295.0 117.5 L298.5 116.5 L302.5 118.8 L305.6 122.5 L306.9 126.9 L306.2 131.9 L305.0 135.0 L305.0 138.0 L308.0 135.6 L310.0 133.0 L311.9 134.4 L314.4 138.8 L315.6 143.0 L314.4 146.2 L313.0 148.0 L311.9 151.9 L311.2 156.0 L313.0 157.8 L316.0 158.0 L320.0 157.3 L323.8 154.5 L327.5 152.3 L330.5 149.0 L333.8 146.0 L337.0 142.0 L336.0 139.5 L335.0 138.0 L340.0 136.2 L346.2 135.0 L351.2 131.2 L352.5 126.9 L351.2 123.8 L354.0 119.0 L357.5 114.5 L366.9 112.0 L378.0 108.2 L380.0 105.0 L383.0 99.5 L383.8 90.8 L385.6 80.8 L387.5 82.6 L391.9 80.0 L395.0 80.8 L397.5 88.2 L401.2 95.8 L405.6 100.8 L403.8 105.0 L401.0 107.0 L398.8 108.8 L396.5 111.5 L395.0 113.8 L393.0 117.0 L391.2 120.0 L389.5 123.5 L388.1 126.2 L387.5 132.5 L389.3 134.0 L387.8 138.8 L390.0 140.5 L395.0 140.0 L396.0 136.2 L397.0 140.8 L393.0 143.0 L390.0 143.8 L387.0 143.5 L383.8 146.2 L378.0 148.5 L375.0 150.0 L372.0 153.0 L371.0 155.0 L373.0 155.7 L374.0 159.5 L373.8 163.2 L372.1 169.8 L369.6 174.0 L367.5 171.0 L365.0 168.0 L366.6 172.5 L369.0 175.5 L370.8 177.5 L371.2 181.0 L370.0 186.0 L368.6 191.5 L367.3 195.3 L364.4 198.2 L366.2 200.0 L368.5 204.0 L372.0 210.0 L367.5 217.5 L363.0 219.0 L360.4 223.2 L357.1 229.0 L352.5 232.5 L349.6 238.1 L346.2 240.0 L343.0 246.4 L341.0 250.0 L337.5 258.8 L335.6 264.0 L337.9 272.0 L342.9 281.9 L347.9 291.9 L352.0 301.8 L353.7 310.1 L352.9 316.7 L351.0 319.5 L348.7 320.5 L345.4 317.6 L341.3 311.8 L336.3 305.1 L331.3 297.7 L330.5 291.0 L328.8 283.6 L323.0 277.8 L317.2 275.3 L311.4 279.4 L308.1 276.1 L301.5 273.6 L296.0 273.6 L293.2 274.4 L289.3 275.7 L285.5 276.0 L282.7 278.1 L280.0 278.6 L276.0 281.5 L281.0 280.6 L281.0 286.4 L278.5 289.8 L274.4 287.3 L269.4 289.4 L264.4 288.1 L259.5 284.0 L252.8 284.8 L244.5 284.4 L240.0 284.6 L236.2 287.3 L229.6 293.1 L223.0 299.7 L218.8 305.5 L216.8 308.0 L216.2 312.5 L217.0 317.0 L218.1 320.0 L218.1 323.8 L213.8 322.5 L207.5 318.8 L202.5 312.5 L199.8 306.0 L194.8 298.0 L189.8 288.1 L184.8 283.1 L178.2 284.0 L174.9 289.8 L169.9 288.1 L162.4 279.8 L160.0 270.0 L155.0 258.0 L136.2 256.2 L136.2 260.0 L131.2 259.5 L117.0 256.0 L110.0 251.0 L92.5 241.6 L76.4 235.6 L72.3 229.8 L69.8 223.1 L64.8 217.3 L58.2 213.2 L52.9 209.9 L52.4 201.6 L49.9 190.0 L48.2 180.0 L46.0 173.0 L45.0 171.2 L43.8 160.0 L42.7 152.0 L43.0 145.0 L45.0 137.5 L47.5 130.0 L50.0 120.0 L53.0 113.8 L55.0 108.8 L58.0 100.0 L59.5 91.0 L60.0 85.0 L60.8 75.0 L61.2 68.8 L66.0 70.3 L70.0 71.8 L71.0 75.0 L72.0 71.0 L73.2 65.5Z"/><path d="M146.2 286.2 L140.0 282.5 L130.0 283.0 L120.0 282.0 L113.8 278.0 L110.0 281.2 L102.5 283.8 L97.5 290.0 L92.5 292.5 L93.0 297.5 L95.7 301.0 L99.5 304.3 L101.8 307.2 L101.0 311.2 L97.5 310.8 L96.0 308.0 L90.0 309.8 L84.9 311.8 L85.6 315.0 L88.2 319.3 L92.0 320.8 L95.7 321.8 L99.5 319.5 L101.5 321.5 L99.6 325.5 L101.5 329.0 L96.0 329.5 L90.7 330.5 L86.8 335.0 L85.4 340.0 L86.0 345.0 L87.4 349.9 L90.0 352.5 L93.2 354.0 L94.0 357.5 L94.8 360.7 L98.0 361.8 L102.5 361.6 L107.5 361.0 L108.0 364.2 L105.0 371.8 L100.0 378.0 L92.5 382.5 L85.0 386.8 L75.0 390.5 L62.5 393.8 L52.5 396.0 L62.5 396.3 L75.0 394.0 L86.0 390.5 L96.0 386.0 L104.0 382.0 L108.8 378.8 L112.5 372.5 L116.5 367.0 L118.0 362.5 L121.2 353.8 L124.5 348.5 L127.5 345.0 L131.2 343.8 L131.2 346.2 L128.5 349.5 L126.2 352.5 L123.0 358.8 L125.0 358.5 L128.0 356.8 L131.2 355.0 L135.0 352.5 L136.2 347.5 L139.0 349.5 L142.5 348.8 L146.2 351.9 L150.0 350.8 L155.0 350.0 L158.0 346.2 L160.0 347.2 L164.0 347.6 L168.0 346.6 L171.1 346.2 L176.0 349.6 L182.7 354.9 L188.5 359.6 L194.3 364.8 L196.8 371.5 L194.5 375.5 L191.0 376.4 L186.0 373.1 L181.0 368.4 L176.1 363.2 L171.0 357.5 L166.1 351.8 L162.0 350.4 L158.0 347.4Z"/>
<path d="M72.5 321.0 L76.0 321.5 L80.0 325.0 L78.0 326.5 L74.5 324.0Z"/>
<path d="M79.2 348.2 L81.0 346.9 L83.6 347.6 L84.4 350.0 L82.5 351.5 L80.0 350.6Z"/>
<path d="M117.5 369.0 L121.0 364.0 L125.0 364.5 L123.0 371.0 L119.0 376.5 L117.0 374.0Z"/>
</g>
<g fill="none" stroke="#6a6a6a" stroke-width="2.2" stroke-linecap="round" stroke-linejoin="round">
<path d="M72.8 67.8 L73.3 71.6 L71.6 75.6 L70.8 79.6 L69.4 82.6"/>
</g>
<g fill="none" stroke="#555" stroke-width=".6" stroke-linecap="round">
<path d="M268 94 L273.5 90.2 M268 99.8 L271.2 97.4 M258.6 110 L259.8 112 M278.7 133 L284.3 121"/>
<path d="M291.5 121 L292.3 128 M290.3 124 L290.6 127"/>
<path d="M46.2 172.6 L49.5 173.3 L53.3 173.9 M47.2 174.8 L49 176"/>
<path d="M56.5 216.5 L58 217 M60.5 222 L61.5 222.6 M64 227 L65 228.5 M66.8 230.5 L67.3 232"/>
</g>
<g fill="none" stroke="#555" stroke-width=".6" stroke-linejoin="round">
<path d="M405.6 100.8 L403.8 105 L401 107 L398.8 108.8 L396.5 111.5 L395 113.8 L393 117 L391.3 120 M404 103.5 L401.5 105.5 L399.5 107 L397.3 109.3 L395.6 112 L393.8 115 M399.6 106.8 L398 110.6 M397.6 108.6 L396.4 112.4" stroke="#4a4a4a" stroke-width=".8"/>
<path d="M372.5 155.6 L376 152.6 L381 150.1 L386.5 147.3 L383 150.4 L378 153.4 L374 156Z" fill="#8a8a8a"/>
<path d="M359.6 170.3 L361.2 172.3 L361.8 176.0 L362.4 180.0 L362.9 184.0 L363.7 187.7 L364.8 191.0 L366.2 194.6 L365.3 196.6 L364.4 198.4 L362.8 197.3 L361.6 195.0 L360.9 192.8 L359.4 191.5 L359.8 189.0 L358.3 186.6 L355.8 185.6 L355.6 184.2 L358.2 183.0 L357.2 180.4 L357.0 177.4 L355.8 176.0 L357.6 175.0 L358.2 172.5Z" stroke="#444" stroke-width=".7"/>
<path d="M358.2 183 L355 182.4 M359.4 191.5 L356.4 192.6 M357 177.4 L354.8 177.6 M360.9 192.8 L358 195 M362.4 180 L364 178.8 M363.7 187.7 L365.2 186.4" stroke="#444" stroke-width=".6"/>
<path d="M366.4 202.6 L368.6 205.2 L370.6 208.6 L369.8 212.6 L367.6 215.4 L365.0 217.2 L363.0 218.0 L364.4 215.0 L366.4 212.4 L365.0 210.8 L367.0 208.6 L365.2 206.8 L363.4 206.0 L365.6 204.6Z" stroke="#444" stroke-width=".6"/>
<path d="M366.3 200.2 L369 204.5 L372 210 L367.8 217.3 L363.2 219 L360.4 223.2" stroke="#444" stroke-width=".7"/>
<path d="M346.3 240 L343 246.4 L341 250 L338.5 256 M340 255 L337.8 258.8"/>
<path d="M264.4 288.1 L269.4 289.4 L274.4 287.3 L278.5 289.8 L281 286.4 L281 280.6 L276 281.5 L280 278.6 M266 286 L270 287.6 L273.5 285.6 L277 287.8 L279.5 285 L279.3 282 M268 284.5 L272 285.6 L275.5 283.2 L278 284.6 M271 282.8 L274.5 281.6 L277 279.6 M267 288.6 L271 290 L275 288.6 L279 290.4" stroke="#444" stroke-width=".8"/>
<path d="M168 348 L172 352 L170.5 354.5 L175 357 L174 360 L179 362 L178.5 365.5 L183.5 367 L183.5 370.5 L188.5 372 L189.5 375 M171.5 347.5 L175.5 351.5 L174.5 354 L179.5 356.5 L178.5 359.5 L184 361.5 L183 364.5 L188.5 366.5 L188 369.5 L193 371.5 L192.5 374.5 M175.5 349.8 L179.5 353.5 L184 357.5 L183.5 360 L188.5 362.5 L189 365.5 L193.5 367.5 L194.5 371 M166.8 350 L170 353.2 L173 358 L177.5 362.8 L182 367.6 L186.6 372 M180 356.5 L185 360.5 L190 364.8 L193 369" stroke="#444" stroke-width=".65"/>
<path d="M136.3 347.5 L138 350.5 L140 349 L142.5 351 L145 349.5 L146.3 352 M137 349.5 L139.5 352 L143 350.2 M135 352.5 L136.3 347.5 M123 358.8 L126.3 352.5 L131.3 346.3 M125 358.5 L131.3 355" stroke="#444" stroke-width=".75"/>
<path d="M117.5 369 L121 364 L125 364.5 L123 371 L119 376.5 L117 374Z M119 370 L122.5 366 M118.5 373.5 L122 369.5" stroke="#444" stroke-width=".8"/>
<path d="M96 384.5 L101 381 L107 377.5 M88 388 L93 385.5"/>
</g>
<circle cx="346.7" cy="302.1" r="1.4" fill="none" stroke="#555" stroke-width=".45"/><path d="M339.6 327.5 L343 326.6 L346.5 325 L349.6 323.2" fill="none" stroke="#555" stroke-width=".7" stroke-dasharray="2 .8"/>
<g fill="#777">
<circle cx="45" cy="394.25" r=".7"/>
<circle cx="41" cy="393" r=".7"/>
<circle cx="37.5" cy="391.75" r=".7"/>
<circle cx="33.5" cy="391" r=".7"/>
<circle cx="30" cy="390" r=".7"/>
<circle cx="25" cy="388" r=".7"/>
<circle cx="21.25" cy="385.5" r=".7"/>
<circle cx="17" cy="382.5" r=".7"/>
<circle cx="13" cy="378" r=".7"/>
<circle cx="10" cy="374" r=".7"/>
<circle cx="7.5" cy="369.25" r=".7"/>
<circle cx="5" cy="368" r=".7"/>
<circle cx="64.5" cy="341" r=".7"/>
<circle cx="65.5" cy="342.4" r=".7"/>
<circle cx="67" cy="365.4" r=".7"/>
<circle cx="68" cy="370.2" r=".7"/>
</g>
<text x="96.3" y="109.5" font-size="10.3" text-anchor="middle" class="lb" textLength="27.5" lengthAdjust="spacingAndGlyphs">Above</text>
<text x="169.5" y="149.5" font-size="10.5" text-anchor="middle" class="lb" textLength="25" lengthAdjust="spacingAndGlyphs">Equal</text>
<text x="169.4" y="161.7" font-size="10.5" text-anchor="middle" class="lb" textLength="38.7" lengthAdjust="spacingAndGlyphs">Chances</text>
<text x="195.3" y="264.5" font-size="11.4" text-anchor="middle" class="lb" textLength="28.2" lengthAdjust="spacingAndGlyphs">Above</text>
<text x="129" y="295.5" font-size="8.7" text-anchor="middle" class="lb" textLength="22" lengthAdjust="spacingAndGlyphs">Above</text>
<text x="95.3" y="353" font-size="8.7" text-anchor="middle" class="lb" textLength="21.7" lengthAdjust="spacingAndGlyphs">Above</text>
<text x="282.8" y="314.6" font-size="8.6" font-weight="700" text-anchor="middle" textLength="95.5" lengthAdjust="spacingAndGlyphs">Probability (Percent Chance)</text>
<text x="250.2" y="324.6" font-size="5.6" font-weight="700" text-anchor="middle" textLength="35.5" lengthAdjust="spacingAndGlyphs">Above Normal</text>
<text x="316.2" y="324.6" font-size="5.6" font-weight="700" text-anchor="middle" textLength="35" lengthAdjust="spacingAndGlyphs">Below Normal</text>
<rect x="232.3" y="331.10" width="12.1" height="6.4" fill="#E9B66F" stroke="#777" stroke-width=".4"/>
<rect x="321.6" y="331.10" width="12.1" height="6.4" fill="#BDC9E8" stroke="#777" stroke-width=".4"/>
<text x="247" y="336.10" font-size="5.2" style="fill:#2b2b2b" textLength="17.5" lengthAdjust="spacingAndGlyphs">33-40%</text>
<text x="318.8" y="336.10" font-size="5.2" style="fill:#2b2b2b" text-anchor="end" textLength="17.5" lengthAdjust="spacingAndGlyphs">33-40%</text>
<rect x="232.3" y="340.85" width="12.1" height="6.4" fill="#E59050" stroke="#777" stroke-width=".4"/>
<rect x="321.6" y="340.85" width="12.1" height="6.4" fill="#A8BFE6" stroke="#777" stroke-width=".4"/>
<text x="247" y="345.85" font-size="5.2" style="fill:#2b2b2b" textLength="17.5" lengthAdjust="spacingAndGlyphs">40-50%</text>
<text x="318.8" y="345.85" font-size="5.2" style="fill:#2b2b2b" text-anchor="end" textLength="17.5" lengthAdjust="spacingAndGlyphs">40-50%</text>
<rect x="232.3" y="350.60" width="12.1" height="6.4" fill="#DC5B38" stroke="#777" stroke-width=".4"/>
<rect x="321.6" y="350.60" width="12.1" height="6.4" fill="#79AEE0" stroke="#777" stroke-width=".4"/>
<text x="247" y="355.60" font-size="5.2" style="fill:#2b2b2b" textLength="17.5" lengthAdjust="spacingAndGlyphs">50-60%</text>
<text x="318.8" y="355.60" font-size="5.2" style="fill:#2b2b2b" text-anchor="end" textLength="17.5" lengthAdjust="spacingAndGlyphs">50-60%</text>
<rect x="232.3" y="360.30" width="12.1" height="6.4" fill="#C8302B" stroke="#777" stroke-width=".4"/>
<rect x="321.6" y="360.30" width="12.1" height="6.4" fill="#2E8BD8" stroke="#777" stroke-width=".4"/>
<text x="247" y="365.30" font-size="5.2" style="fill:#2b2b2b" textLength="17.5" lengthAdjust="spacingAndGlyphs">60-70%</text>
<text x="318.8" y="365.30" font-size="5.2" style="fill:#2b2b2b" text-anchor="end" textLength="17.5" lengthAdjust="spacingAndGlyphs">60-70%</text>
<rect x="232.3" y="370.05" width="12.1" height="6.4" fill="#C42A4B" stroke="#777" stroke-width=".4"/>
<rect x="321.6" y="370.05" width="12.1" height="6.4" fill="#1565B8" stroke="#777" stroke-width=".4"/>
<text x="247" y="375.05" font-size="5.2" style="fill:#2b2b2b" textLength="17.5" lengthAdjust="spacingAndGlyphs">70-80%</text>
<text x="318.8" y="375.05" font-size="5.2" style="fill:#2b2b2b" text-anchor="end" textLength="17.5" lengthAdjust="spacingAndGlyphs">70-80%</text>
<rect x="232.3" y="379.80" width="12.1" height="6.4" fill="#8B1A2B" stroke="#777" stroke-width=".4"/>
<rect x="321.6" y="379.80" width="12.1" height="6.4" fill="#2A1A86" stroke="#777" stroke-width=".4"/>
<text x="247" y="384.80" font-size="5.2" style="fill:#2b2b2b" textLength="17.5" lengthAdjust="spacingAndGlyphs">80-90%</text>
<text x="318.8" y="384.80" font-size="5.2" style="fill:#2b2b2b" text-anchor="end" textLength="17.5" lengthAdjust="spacingAndGlyphs">80-90%</text>
<rect x="232.3" y="389.50" width="12.1" height="6.4" fill="#5E1016" stroke="#777" stroke-width=".4"/>
<rect x="321.6" y="389.50" width="12.1" height="6.4" fill="#1A1050" stroke="#777" stroke-width=".4"/>
<text x="247" y="394.50" font-size="5.2" style="fill:#2b2b2b" textLength="20" lengthAdjust="spacingAndGlyphs">90-100%</text>
<text x="318.8" y="394.50" font-size="5.2" style="fill:#2b2b2b" text-anchor="end" textLength="20" lengthAdjust="spacingAndGlyphs">90-100%</text>
<text x="283" y="351.6" font-size="5.8" font-weight="700" text-anchor="middle" textLength="15.5" lengthAdjust="spacingAndGlyphs">Equal</text>
<text x="283" y="358.7" font-size="5.8" font-weight="700" text-anchor="middle" textLength="22" lengthAdjust="spacingAndGlyphs">Chances</text>
<rect x="277" y="365.5" width="12.2" height="5.8" fill="#fff" stroke="#777" stroke-width=".5"/>
<text x="209.5" y="336.6" font-size="6.8" style="fill:#2b2b2b" text-anchor="middle" textLength="22" lengthAdjust="spacingAndGlyphs">Leaning</text><text x="209.5" y="345.4" font-size="6.8" style="fill:#2b2b2b" text-anchor="middle" textLength="17.5" lengthAdjust="spacingAndGlyphs">Above</text>
<text x="209.3" y="371" font-size="6.8" style="fill:#2b2b2b" text-anchor="middle" textLength="16" lengthAdjust="spacingAndGlyphs">Likely</text><text x="209.3" y="379.5" font-size="6.8" style="fill:#2b2b2b" text-anchor="middle" textLength="17.5" lengthAdjust="spacingAndGlyphs">Above</text>
<text x="357.5" y="336.6" font-size="6.8" style="fill:#2b2b2b" text-anchor="middle" textLength="22" lengthAdjust="spacingAndGlyphs">Leaning</text><text x="357.5" y="345.4" font-size="6.8" style="fill:#2b2b2b" text-anchor="middle" textLength="17.5" lengthAdjust="spacingAndGlyphs">Below</text>
<text x="357.5" y="371" font-size="6.8" style="fill:#2b2b2b" text-anchor="middle" textLength="16" lengthAdjust="spacingAndGlyphs">Likely</text><text x="357.5" y="379.5" font-size="6.8" style="fill:#2b2b2b" text-anchor="middle" textLength="17.5" lengthAdjust="spacingAndGlyphs">Below</text>
<path d="M229.4 331 Q226.6 331 226.6 333.5 L226.6 336.9 Q226.6 339.4 223.8 339.4 Q226.6 339.4 226.6 341.9 L226.6 345.3 Q226.6 347.8 229.4 347.8" fill="none" stroke="#444" stroke-width=".5"/>
<path d="M230.8 350.4 Q226.4 350.4 226.4 352.9 L226.4 370.79999999999995 Q226.4 373.29999999999995 222.0 373.29999999999995 Q226.4 373.29999999999995 226.4 375.79999999999995 L226.4 393.7 Q226.4 396.2 230.8 396.2" fill="none" stroke="#444" stroke-width=".5"/>
<path d="M336.4 331 Q339.8 331 339.8 333.5 L339.8 336.75 Q339.8 339.25 343.2 339.25 Q339.8 339.25 339.8 341.75 L339.8 345.0 Q339.8 347.5 336.4 347.5" fill="none" stroke="#444" stroke-width=".5"/>
<path d="M336.4 350.5 Q341.2 350.5 341.2 353.0 L341.2 370.75 Q341.2 373.25 346.0 373.25 Q341.2 373.25 341.2 375.75 L341.2 393.5 Q341.2 396 336.4 396" fill="none" stroke="#444" stroke-width=".5"/>
<text x="135.6" y="23.9" class="ttl" textLength="114" lengthAdjust="spacingAndGlyphs">Temperature</text>
<text x="82.3" y="50.4" font-size="23.2" class="sub" textLength="262.3" lengthAdjust="spacingAndGlyphs">Seasonal Temperature Outlook</text>
<text x="151.7" y="67.2" font-size="9.6" font-weight="700" textLength="21.8" lengthAdjust="spacingAndGlyphs">Valid:</text><text x="178.5" y="67.2" font-size="9.6" textLength="67.2" lengthAdjust="spacingAndGlyphs">May-Jun-Jul 2023</text>
<text x="151.7" y="77.8" font-size="9.6" font-weight="700" textLength="29.3" lengthAdjust="spacingAndGlyphs">Issued:</text><text x="185" y="77.8" font-size="9.6" textLength="52.1" lengthAdjust="spacingAndGlyphs">April 20, 2023</text>
<g transform="translate(44.1 44.2)">
<ellipse rx="12.25" ry="13.85" fill="#3586b8"/><ellipse rx="10.9" ry="12.4" fill="#8fc0dc"/><ellipse rx="9.7" ry="11.1" fill="#3586b8"/><ellipse rx="8.8" ry="10.1" fill="#fdfcf6"/>
<path d="M-5.4 -1.6 H5.4 V0 L4.9 0.4 V4 Q4.9 8.2 0 9.4 Q-4.9 8.2 -4.9 4 V0.4 L-5.4 0Z" fill="#dba722" stroke="#3b3a30" stroke-width=".35"/>
<path d="M-5.4 -1.6 H5.4 V0 L4.9 0.4 V2.6 H-4.9 V0.4 L-5.4 0Z" fill="#2d5f9b"/>
<path d="M0 -1.2 L-1.6 -3.2 L-3.8 -7.4 L-2.2 -8 L0 -4.8 L2.2 -8 L3.8 -7.4 L1.6 -3.2Z" fill="#231d10"/>
<path d="M-1.6 -1.8 L0 -3.4 L1.6 -1.8Z" fill="#c79a2a"/>
<path d="M0 2.6 V9" stroke="#3b3a30" stroke-width=".5"/>
</g>
<g transform="translate(382.5 44.2)">
<ellipse rx="12.3" ry="13.8" fill="#3b8fcc"/>
<path d="M-10.2 -7.6 Q-7 -13.8 0 -13.8 Q7 -13.8 10.2 -7.6 L0.3 3.4Z" fill="#1c3a92"/>
<path d="M-12.2 -5.2 L-10.2 -7.8 Q-3.5 -2.4 0.3 2.6 Q4 -2.6 10.2 -7.8 L12.4 -6 Q6 -0.5 2.6 4 Q4.4 4.2 5.4 5.2 Q2.5 5 0.6 5.9 Q-2 6.8 -5 6 Q-2.6 5.6 -1.4 4.2 Q-5.2 -0.4 -12.2 -5.2Z" fill="#fff"/>
<text x="0" y="-6.2" font-size="3.4" font-weight="700" font-style="italic" text-anchor="middle" style="fill:#fff">NOAA</text>
</g>
</g>
</svg></body></html>
